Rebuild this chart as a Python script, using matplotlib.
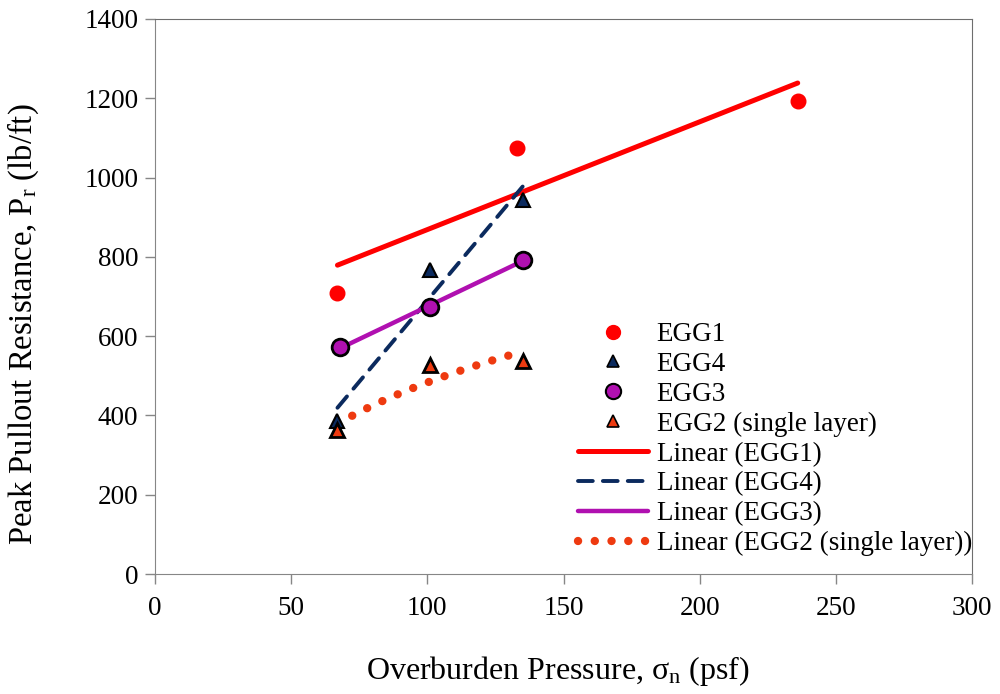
import numpy as np
import matplotlib
matplotlib.use("Agg")
import matplotlib.pyplot as plt
from matplotlib.lines import Line2D

plt.rcParams["font.family"] = ["Liberation Serif", "DejaVu Serif"]
plt.rcParams["mathtext.fontset"] = "custom"
plt.rcParams["mathtext.rm"] = "Liberation Serif"
plt.rcParams["mathtext.it"] = "Liberation Serif:italic"

# Overburden pressure (psf) and peak pullout resistance (lb/ft)
egg1_x = [67, 133, 236]
egg1_y = [708, 1075, 1193]
egg4_x = [67, 101, 135]
egg4_y = [385, 767, 943]
egg3_x = [68, 101, 135]
egg3_y = [572, 673, 792]
egg2_x = [67, 101, 135]
egg2_y = [362, 527, 537]

x_ticks = [0, 50, 100, 150, 200, 250, 300]
y_ticks = [0, 200, 400, 600, 800, 1000, 1200, 1400]

c_egg1 = "#FF0000"
c_egg4 = "#0B2A5E"
c_egg3 = "#B010B0"
c_egg2 = "#EE3A10"

fig = plt.figure(figsize=(10, 6.94), dpi=100)
ax = fig.add_axes([0.155, 1 - 574 / 694, (972 - 155) / 1000, (574 - 19) / 694])

# trendlines
def linfit(x, y):
    k, b = np.polyfit(x, y, 1)
    xs = np.array([min(x), max(x)])
    return xs, k * xs + b

dot_style = (0, (0.01, 2.0))
dash_style = (0, (3.8, 2.6))

xs, ys = linfit(egg1_x, egg1_y)
ax.plot(xs, ys, color=c_egg1, lw=3.6, solid_capstyle="round", zorder=2)
xs, ys = linfit(egg4_x, egg4_y)
ax.plot(xs, ys, color=c_egg4, lw=2.8, linestyle=dash_style,
        dash_capstyle="round", zorder=2)
xs, ys = linfit(egg3_x, egg3_y)
ax.plot(xs, ys, color=c_egg3, lw=3.2, solid_capstyle="round", zorder=2)
k2, b2 = np.polyfit(np.log(egg2_x), egg2_y, 1)
xs2 = np.linspace(min(egg2_x), max(egg2_x), 200)
ax.plot(xs2, k2 * np.log(xs2) + b2, color=c_egg2, lw=6,
        linestyle=dot_style, dash_capstyle="round", zorder=2)

# data points
ax.plot(egg1_x, egg1_y, "o", ms=10.5, color=c_egg1, mec=c_egg1, zorder=3)
ax.plot(egg4_x, egg4_y, "^", ms=10.5, color=c_egg4, mec="black", mew=1.5, zorder=3)
ax.plot(egg3_x, egg3_y, "o", ms=12, color=c_egg3, mec="black", mew=2, zorder=3)
ax.plot(egg2_x, egg2_y, "^", ms=10.5, color=c_egg2, mec="black", mew=2, zorder=3)

ax.set_xlim(0, 300)
ax.set_ylim(0, 1400)
ax.set_xticks(x_ticks)
ax.set_yticks(y_ticks)
ax.tick_params(axis="both", direction="out", length=7, width=1, color="#868686",
               labelsize=19.5)
ax.tick_params(axis="x", pad=9)
ax.tick_params(axis="y", pad=5)
for side in ["left", "bottom"]:
    ax.spines[side].set_color("#868686")
for side in ["top", "right"]:
    ax.spines[side].set_color("#6e6e6e")

ax.set_xlabel(r"Overburden Pressure, σ$_\mathregular{n}$ (psf)", fontsize=23,
              ha="center", va="center")
ax.xaxis.set_label_coords(0.493, -0.175)
ax.set_ylabel(r"Peak Pullout Resistance, P$_\mathregular{r}$ (lb/ft)", fontsize=23.5,
              ha="center", va="center")
ax.yaxis.set_label_coords(-0.161, 0.45)

handles = [
    Line2D([], [], ls="none", marker="o", ms=10, color=c_egg1, mec=c_egg1),
    Line2D([], [], ls="none", marker="^", ms=8, color=c_egg4, mec="black", mew=1.2),
    Line2D([], [], ls="none", marker="o", ms=11, color=c_egg3, mec="black", mew=1.5),
    Line2D([], [], ls="none", marker="^", ms=8, color=c_egg2, mec="black", mew=1.2),
    Line2D([], [], color=c_egg1, lw=3.6, solid_capstyle="round"),
    Line2D([], [], color=c_egg4, lw=2.8, linestyle=dash_style, dash_capstyle="round"),
    Line2D([], [], color=c_egg3, lw=3.2, solid_capstyle="round"),
    Line2D([], [], color=c_egg2, lw=6, linestyle=dot_style, dash_capstyle="round"),
]
labels = ["EGG1", "EGG4", "EGG3", "EGG2 (single layer)",
          "Linear (EGG1)", "Linear (EGG4)", "Linear (EGG3)",
          "Linear (EGG2 (single layer))"]
fig.legend(handles, labels, loc="upper left", bbox_to_anchor=(0.578, 1 - 322 / 694),
           frameon=False, fontsize=19.5, handlelength=2.6, handletextpad=0.3,
           labelspacing=0.18, borderpad=0, borderaxespad=0)

fig.savefig("out.png", dpi=100)
